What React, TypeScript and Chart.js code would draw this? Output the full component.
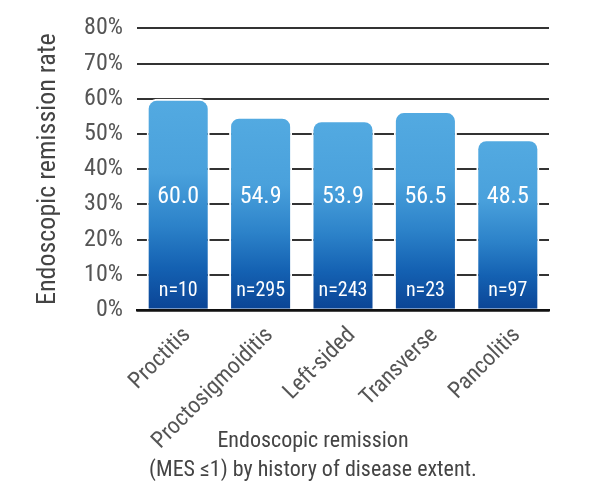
import React, { useEffect, useRef } from "react";
import { Chart, registerables } from "chart.js";

Chart.register(...registerables);

const categories = ["Proctitis", "Proctosigmoiditis", "Left-sided", "Transverse", "Pancolitis"];
const remissionRates = [60.0, 54.9, 53.9, 56.5, 48.5];
const sampleSizes = [10, 295, 243, 23, 97];
const yTicks = [0, 10, 20, 30, 40, 50, 60, 70, 80];
const yTitle = "Endoscopic remission rate";
const xTitle = ["Endoscopic remission", "(MES \u22641) by history of disease extent."];

const FONT = '"Roboto Condensed", "Liberation Sans", sans-serif';

const labelPlugin = {
  id: "barLabels",
  afterDatasetsDraw(chart: any) {
    const ctx = chart.ctx;
    const meta = chart.getDatasetMeta(0);
    const y = chart.scales.y;
    ctx.save();
    ctx.fillStyle = "#ffffff";
    ctx.textAlign = "center";
    ctx.textBaseline = "middle";
    meta.data.forEach((bar: any, i: number) => {
      ctx.font = `24px ${FONT}`;
      ctx.fillText(remissionRates[i].toFixed(1), bar.x, y.getPixelForValue(32));
      ctx.font = `20px ${FONT}`;
      ctx.fillText(`n=${sampleSizes[i]}`, bar.x, y.getPixelForValue(5.3));
    });
    // x-axis title (two lines)
    ctx.fillStyle = "#444444";
    ctx.font = `22px ${FONT}`;
    const cx = chart.width / 2 + 17;
    ctx.fillText(xTitle[0], cx, 441);
    ctx.fillText(xTitle[1], cx, 470);
    ctx.restore();
  },
};

export default function App() {
  const ref = useRef<HTMLCanvasElement | null>(null);

  useEffect(() => {
    if (!ref.current) return;
    const chart = new Chart(ref.current, {
      type: "bar",
      data: {
        labels: categories,
        datasets: [
          {
            data: remissionRates,
            backgroundColor: (c: any) => {
              const ch = c.chart;
              const ys = ch.scales?.y;
              if (!ys || !c.parsed || !ch.chartArea) return "#3a8fd0";
              const top = ys.getPixelForValue(c.parsed.y);
              const bottom = ys.getPixelForValue(0);
              if (!isFinite(top) || !isFinite(bottom) || top === bottom) return "#3a8fd0";
              const g = ch.ctx.createLinearGradient(0, top, 0, bottom);
              g.addColorStop(0, "#53aae1");
              g.addColorStop(0.35, "#4aa1dc");
              g.addColorStop(0.6, "#2c82c9");
              g.addColorStop(0.8, "#1461b2");
              g.addColorStop(1, "#0b4495");
              return g;
            },
            borderWidth: 2,
            borderColor: "#ffffff",
            borderRadius: 10,
            borderSkipped: "bottom",
            categoryPercentage: 1,
            barPercentage: 0.765,
          },
        ],
      },
      options: {
        animation: false,
        responsive: false,
        maintainAspectRatio: false,
        layout: { padding: { left: 0, right: 43, top: 27, bottom: 0 } },
        plugins: { legend: { display: false }, tooltip: { enabled: false } },
        scales: {
          x: {
            grid: { display: false },
            border: { display: true, color: "#111", width: 2.5 },
            ticks: {
              maxRotation: 45,
              minRotation: 45,
              color: "#555",
              font: { family: FONT, size: 23 },
              padding: 4,
              labelOffset: 9,
            },
            afterFit: (s: any) => {
              s.height = 190;
            },
          },
          y: {
            min: 0,
            max: 80,
            afterBuildTicks: (s: any) => {
              s.ticks = yTicks.map((v) => ({ value: v }));
            },
            grid: {
              color: (c: any) => (c.tick && c.tick.value === 0 ? "#111" : "#333"),
              lineWidth: (c: any) => (c.tick && c.tick.value === 0 ? 2.5 : 2),
              drawTicks: false,
            },
            border: { display: false },
            ticks: {
              callback: (v: any) => `${v}%`,
              color: "#555",
              font: { family: FONT, size: 24 },
              padding: 14,
            },
            title: {
              display: true,
              text: yTitle,
              color: "#444",
              font: { family: FONT, size: 26 },
              padding: { top: 33, bottom: 0 },
            },
            afterFit: (s: any) => {
              s.width = 137;
            },
          },
        },
      },
      plugins: [labelPlugin],
    });
    return () => chart.destroy();
  }, []);

  return (
    <div style={{ position: "absolute", left: 0, top: 0, width: 592, height: 500, background: "#fff" }}>
      <canvas ref={ref} width={592} height={500} style={{ width: 592, height: 500 }} />
    </div>
  );
}
